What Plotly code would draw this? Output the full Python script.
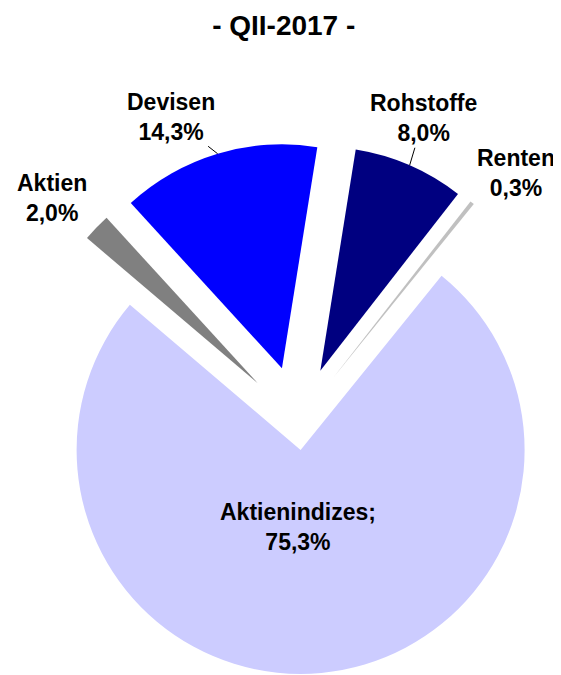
import math
import plotly.graph_objects as go

# Data (clockwise order, starting with the big slice)
labels = ["Aktienindizes", "Aktien", "Devisen", "Rohstoffe", "Renten"]
values = [75.3, 2.0, 14.3, 8.0, 0.3]
colors = ["#CCCCFF", "#808080", "#0000FF", "#000080", "#C0C0C0"]
title_text = "- QII-2017 -"

# Layout / style settings
W, H = 575, 700
DOM_X = [0.01739, 0.99130]
DOM_Y = [0.00857, 0.80857]
ROTATION = 39
PULL = [0.125, 0.25, 0.25, 0.25, 0.25]
FONT = "Arial, Liberation Sans"

# label offsets (pixels) from the slice's arc midpoint, and whether a leader line is drawn
label_dx = [0, -44, -47, 14, 44]
label_dy = [0, -30, -37, -47, -30]
leader = [False, False, True, True, False]

fig = go.Figure(
    go.Pie(
        labels=labels,
        values=values,
        sort=False,
        direction="clockwise",
        rotation=ROTATION,
        pull=PULL,
        marker=dict(colors=colors, line=dict(width=0)),
        textinfo="none",
        showlegend=False,
        hoverinfo="label+value",
        domain=dict(x=DOM_X, y=DOM_Y),
    )
)

# pie geometry, the same way plotly sizes it
cx = W * (DOM_X[0] + DOM_X[1]) / 2
cy = H * (1 - (DOM_Y[0] + DOM_Y[1]) / 2)
r = min(W * (DOM_X[1] - DOM_X[0]) / 2, H * (DOM_Y[1] - DOM_Y[0]) / 2) / (1 + max(PULL))
total = sum(values)


def fmt(v):
    return f"{v:.1f}".replace(".", ",") + "%"


start = ROTATION
for i, (lab, v) in enumerate(zip(labels, values)):
    span = 360 * v / total
    mid = math.radians(start + span / 2)
    start += span
    off = PULL[i] * r
    if i == 0:
        # big slice: label inside the slice
        dist = off + 0.345 * r
        px = cx + dist * math.sin(mid)
        py = cy - dist * math.cos(mid)
        fig.add_annotation(
            x=px / W, y=1 - py / H, xref="paper", yref="paper",
            xanchor="center", yanchor="middle",
            text=f"{lab};<br>{fmt(v)}", showarrow=False, xshift=-10,
            font=dict(family=FONT, size=23, color="black", weight="bold"),
        )
        continue
    dist = off + r
    px = cx + dist * math.sin(mid)
    py = cy - dist * math.cos(mid)
    fig.add_annotation(
        x=px / W, y=1 - py / H, xref="paper", yref="paper",
        text=f"{lab}<br>{fmt(v)}",
        showarrow=True, arrowhead=0, arrowwidth=1,
        arrowcolor="black" if leader[i] else "rgba(0,0,0,0)",
        ax=label_dx[i], ay=label_dy[i], standoff=0,
        font=dict(family=FONT, size=23, color="black", weight="bold"),
    )

fig.update_layout(
    width=W,
    height=H,
    margin=dict(l=0, r=0, t=0, b=0),
    paper_bgcolor="white",
    plot_bgcolor="white",
    title=dict(
        text=title_text,
        x=0.4795,
        xanchor="center",
        y=1 - 17 / H,
        yanchor="middle",
        yref="container",
        font=dict(family=FONT, size=28, color="black", weight="bold"),
    ),
)

fig.write_html("out.html")
